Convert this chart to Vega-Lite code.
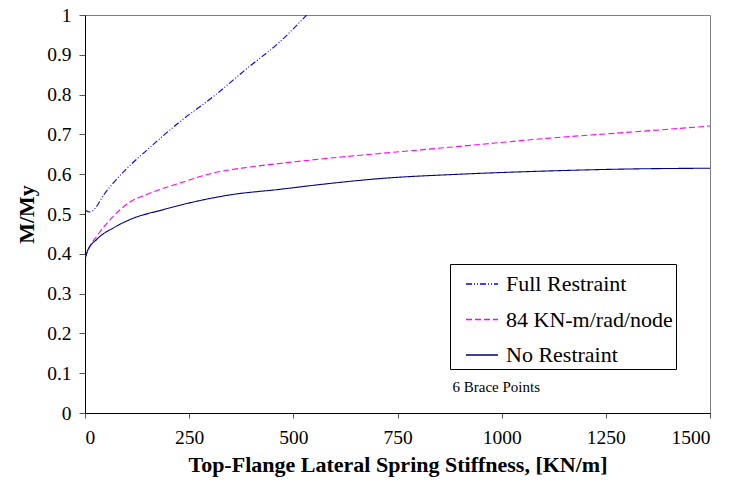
{
  "$schema": "https://vega.github.io/schema/vega-lite/v6.json",
  "width": 625,
  "height": 398,
  "autosize": {"type": "none"},
  "padding": {"left": 85, "top": 15, "right": 21, "bottom": 75},
  "background": "white",
  "config": {
    "font": "Liberation Serif",
    "view": {"stroke": "#808080", "strokeWidth": 1},
    "axis": {"grid": false, "domainColor": "black", "tickColor": "#555", "labelColor": "black", "titleColor": "black", "labelFont": "Liberation Serif", "titleFont": "Liberation Serif", "labelFontSize": 19.5, "titleFontSize": 22, "titleFontWeight": "bold", "labelOverlap": false}
  },
  "data": {"values": [
    {"series": "Full Restraint", "x": 0, "y": 0.51},
    {"series": "Full Restraint", "x": 12, "y": 0.505},
    {"series": "Full Restraint", "x": 25, "y": 0.515},
    {"series": "Full Restraint", "x": 45, "y": 0.548},
    {"series": "Full Restraint", "x": 68, "y": 0.578},
    {"series": "Full Restraint", "x": 100, "y": 0.614},
    {"series": "Full Restraint", "x": 148, "y": 0.66},
    {"series": "Full Restraint", "x": 228, "y": 0.732},
    {"series": "Full Restraint", "x": 308, "y": 0.795},
    {"series": "Full Restraint", "x": 388, "y": 0.865},
    {"series": "Full Restraint", "x": 468, "y": 0.933},
    {"series": "Full Restraint", "x": 532, "y": 1.0},
    {"series": "84 KN-m/rad/node", "x": 0, "y": 0.39},
    {"series": "84 KN-m/rad/node", "x": 10, "y": 0.415},
    {"series": "84 KN-m/rad/node", "x": 28, "y": 0.444},
    {"series": "84 KN-m/rad/node", "x": 68, "y": 0.494},
    {"series": "84 KN-m/rad/node", "x": 108, "y": 0.53},
    {"series": "84 KN-m/rad/node", "x": 148, "y": 0.549},
    {"series": "84 KN-m/rad/node", "x": 228, "y": 0.578},
    {"series": "84 KN-m/rad/node", "x": 308, "y": 0.603},
    {"series": "84 KN-m/rad/node", "x": 388, "y": 0.617},
    {"series": "84 KN-m/rad/node", "x": 468, "y": 0.627},
    {"series": "84 KN-m/rad/node", "x": 564, "y": 0.638},
    {"series": "84 KN-m/rad/node", "x": 708, "y": 0.652},
    {"series": "84 KN-m/rad/node", "x": 900, "y": 0.670},
    {"series": "84 KN-m/rad/node", "x": 1108, "y": 0.690},
    {"series": "84 KN-m/rad/node", "x": 1300, "y": 0.705},
    {"series": "84 KN-m/rad/node", "x": 1500, "y": 0.721},
    {"series": "No Restraint", "x": 0, "y": 0.385},
    {"series": "No Restraint", "x": 5, "y": 0.405},
    {"series": "No Restraint", "x": 28, "y": 0.436},
    {"series": "No Restraint", "x": 68, "y": 0.465},
    {"series": "No Restraint", "x": 108, "y": 0.486},
    {"series": "No Restraint", "x": 188, "y": 0.511},
    {"series": "No Restraint", "x": 268, "y": 0.532},
    {"series": "No Restraint", "x": 348, "y": 0.548},
    {"series": "No Restraint", "x": 468, "y": 0.562},
    {"series": "No Restraint", "x": 564, "y": 0.574},
    {"series": "No Restraint", "x": 708, "y": 0.589},
    {"series": "No Restraint", "x": 900, "y": 0.600},
    {"series": "No Restraint", "x": 1108, "y": 0.608},
    {"series": "No Restraint", "x": 1300, "y": 0.613},
    {"series": "No Restraint", "x": 1500, "y": 0.615}
  ]},
  "encoding": {
    "x": {"field": "x", "type": "quantitative", "scale": {"domain": [0, 1500], "nice": false, "zero": false},
          "axis": {"values": [0, 250, 500, 750, 1000, 1250, 1500], "format": "d", "tickSize": 5, "labelPadding": 10, "title": "Top-Flange Lateral Spring Stiffness, [KN/m]", "titlePadding": 8}},
    "y": {"field": "y", "type": "quantitative", "scale": {"domain": [0, 1], "nice": false},
          "axis": {"values": [0, 0.1, 0.2, 0.3, 0.4, 0.5, 0.6, 0.7, 0.8, 0.9, 1], "labelOverlap": false, "tickSize": 6, "labelPadding": 8, "title": "M/My", "titlePadding": 8, "labelExpr": "datum.value == 0 ? '0' : datum.value == 1 ? '1' : format(datum.value, '.1f')"}}
  },
  "layer": [
    {
      "mark": {"type": "line", "strokeWidth": 1.1, "interpolate": "monotone", "clip": true},
      "encoding": {
        "color": {"field": "series", "type": "nominal",
                  "scale": {"domain": ["Full Restraint", "84 KN-m/rad/node", "No Restraint"], "range": ["#0000FF", "#FF00FF", "#000080"]},
                  "legend": {"title": null, "orient": "none", "legendX": 365, "legendY": 249, "symbolType": "stroke", "symbolSize": 1024, "symbolStrokeWidth": 1.6, "symbolOffset": 12, "labelFontSize": 22, "labelFont": "Liberation Serif", "labelOffset": 7, "labelLimit": 400, "rowPadding": 7.5, "padding": 3, "strokeColor": "black", "fillColor": "white", "labelColor": "black"}},
        "strokeDash": {"field": "series", "type": "nominal",
                  "scale": {"domain": ["Full Restraint", "84 KN-m/rad/node", "No Restraint"], "range": [[6, 2, 1, 2, 1, 2], [6, 3], [1, 0]]},
                  "legend": null}
      }
    },
    {
      "data": {"values": [{"x": 882, "y": 0.065, "label": "6 Brace Points"}]},
      "mark": {"type": "text", "align": "left", "baseline": "middle", "fontSize": 15, "font": "Liberation Serif", "color": "black"},
      "encoding": {
        "text": {"field": "label"}
      }
    }
  ]
}
